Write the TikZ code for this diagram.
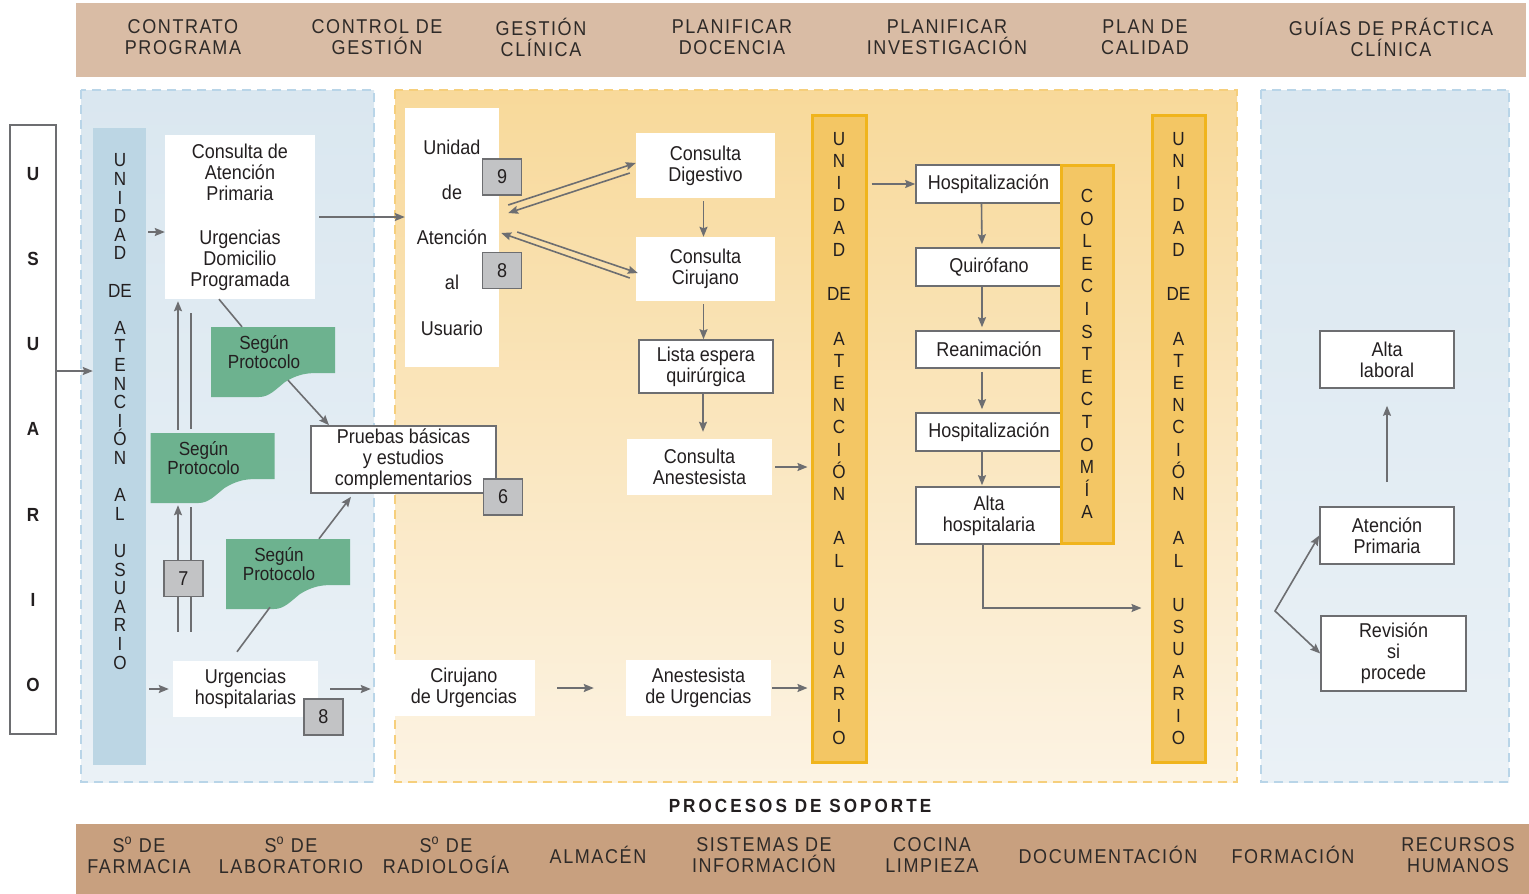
\documentclass[tikz,border=0pt]{standalone}
\usepackage{fontspec}
\setmainfont{Liberation Sans}[FakeStretch=0.9]
\newfontfamily\bandfont{Liberation Sans}[FakeStretch=0.9,LetterSpace=8]
\newfontfamily\soportefont{Liberation Sans}[FakeStretch=0.9,LetterSpace=16]
\usetikzlibrary{arrows.meta}
\definecolor{ink}{HTML}{231F20}
\definecolor{bandink}{HTML}{2E2A28}
\definecolor{edge}{HTML}{6D6E71}
\definecolor{topband}{HTML}{D9BCA5}
\definecolor{botband}{HTML}{C8A07F}
\definecolor{bluetop}{HTML}{DAE7F0}
\definecolor{bluebot}{HTML}{EAF1F6}
\definecolor{bluedash}{HTML}{B9D5E8}
\definecolor{orangetop}{HTML}{F8D99A}
\definecolor{orangebot}{HTML}{FCF3E3}
\definecolor{orangedash}{HTML}{F6CF7C}
\definecolor{barblue}{HTML}{BCD6E4}
\definecolor{barfill}{HTML}{F3C664}
\definecolor{barline}{HTML}{F0B41C}
\definecolor{docgreen}{HTML}{6DB28F}
\definecolor{numgray}{HTML}{C2C3C5}
\newcommand{\unidadtxt}[1]{U\\N\\I\\D\\A\\D\\[#1]DE\\[#1]A\\T\\E\\N\\C\\I\\Ó\\N\\[#1]A\\L\\[#1]U\\S\\U\\A\\R\\I\\O}
\begin{document}
\begin{tikzpicture}[x=1pt, y=-1pt, >={Stealth[length=10pt,width=8pt,inset=1.5pt]},
  txt/.style={font=\fontsize{20}{21}\selectfont, text=ink, align=center, inner sep=0pt},
  plainbox/.style={txt, fill=white},
  box/.style={txt, fill=white, draw=edge, line width=1.6pt},
  num/.style={txt, fill=numgray, draw=edge, line width=1.6pt, minimum width=39pt, minimum height=36pt},
  conn/.style={draw=edge, line width=1.6pt},
  band/.style={font=\bandfont\fontsize{20}{21}\selectfont, text=bandink, align=center},
  vbar/.style={fill=barfill, draw=barline, line width=3pt, inner sep=0pt, text=ink, align=center},
  panelblue/.style={top color=bluetop, bottom color=bluebot, draw=bluedash, line width=1.5pt, dash pattern=on 9pt off 6pt},
  panelorange/.style={top color=orangetop, bottom color=orangebot, draw=orangedash, line width=1.5pt, dash pattern=on 9pt off 6pt},
  pics/protocolo/.style={code={
    \fill[docgreen] (-62,-35) -- (62,-35) -- (62,11) -- (44,11) .. controls (30,11) and (22,14) .. (12,20) .. controls (2,28) and (-4,35) .. (-14,35) -- (-62,35) -- cycle;
    \node[txt, font=\fontsize{19}{19}\selectfont, minimum width=106pt, minimum height=50pt] (-t) at (-9,-10) {Según\\Protocolo};
  }}]
\useasboundingbox (0,0) rectangle (1529,894);

% bandas
\fill[topband] (76,3) rectangle (1526,77);
\fill[botband] (76,824) rectangle (1529,894);
\node[band] (contrato) at (183,37.5) {CONTRATO\\PROGRAMA};
\node[band] (control) at (377,37.5) {CONTROL DE\\GESTIÓN};
\node[band] (gestion) at (541,37.5) {GESTIÓN\\CLÍNICA};
\node[band] (docencia) at (732,37.5) {PLANIFICAR\\DOCENCIA};
\node[band] (investig) at (947,37.5) {PLANIFICAR\\INVESTIGACIÓN};
\node[band] (calidad) at (1145,37.5) {PLAN DE\\CALIDAD};
\node[band] (guias) at (1391,37.5) {GUÍAS DE PRÁCTICA\\CLÍNICA};
\node[band] (farmacia) at (139,855.5) {S\textsuperscript{o} DE\\FARMACIA};
\node[band] (laborat) at (291,855.5) {S\textsuperscript{o} DE\\LABORATORIO};
\node[band] (radiolog) at (446,855.5) {S\textsuperscript{o} DE\\RADIOLOGÍA};
\node[band] (almacen) at (598,855) {ALMACÉN};
\node[band] (sistemas) at (764,855.5) {SISTEMAS DE\\INFORMACIÓN};
\node[band] (cocina) at (932,855.5) {COCINA\\LIMPIEZA};
\node[band] (document) at (1108,855) {DOCUMENTACIÓN};
\node[band] (formacion) at (1293,855) {FORMACIÓN};
\node[band] (recursos) at (1458,855.5) {RECURSOS\\HUMANOS};
\node[font=\soportefont\bfseries\fontsize{19}{20}\selectfont, text=ink] (soporte) at (800,806) {PROCESOS DE SOPORTE};

% paneles
\path[panelblue] (81,90) rectangle (374,782);
\path[panelorange] (395,90) rectangle (1237,782);
\path[panelblue] (1261,90) rectangle (1509,782);

% usuario y atencion primaria
\node[txt, draw=edge, line width=1.6pt, fill=white, minimum width=46pt, minimum height=609pt, font=\bfseries\fontsize{19}{85.3}\selectfont] (usuario) at (33,429.5) {U\\S\\U\\A\\R\\I\\O};
\node[fill=barblue, minimum width=53pt, minimum height=637pt, inner sep=0pt] (ubar) at (119.5,446.5) {};
\node[txt, font=\fontsize{19}{18.6}\selectfont] (ubartxt) at (120,411.5) {\unidadtxt{18.6pt}};
\node[plainbox, minimum width=150pt, minimum height=164pt] (cap) at (240,217) {Consulta de\\Atención\\Primaria\\[23pt]Urgencias\\Domicilio\\Programada};
\node[plainbox, minimum width=145pt, minimum height=56pt] (urg) at (245.5,689) {Urgencias\\hospitalarias};
\node[box, minimum width=185pt, minimum height=67pt] (pru) at (403.5,459.5) {Pruebas básicas\\y estudios\\complementarios};
\pic (seg1) at (273,362) {protocolo};
\pic (seg2) at (212.5,468) {protocolo};
\pic (seg3) at (288,574) {protocolo};
\coordinate (capin) at ([yshift=-15pt]cap.west);
\draw[conn,->] ([yshift=58.5pt]usuario.east) -- ([yshift=75.5pt]ubar.west);
\draw[conn,->,shorten <=2pt] (ubar.east |- capin) -- (capin);
\draw[conn,->,shorten <=3pt] (ubar.east |- urg.west) -- ([xshift=-4pt]urg.west);
\draw[conn] ([xshift=-21pt]cap.south) -- ([xshift=-22pt]seg1-t.north);
\draw[conn,->] ([shift={(24,3)}]seg1-t.south) -- ([xshift=-74.5pt]pru.north);
\draw[conn,->,shorten >=2pt] ([shift={(-25.5,-3)}]seg2-t.north) -- ([xshift=-62pt]cap.south);
\draw[conn] ([shift={(-12.5,-4)}]seg2-t.north) -- ([shift={(-49,14)}]cap.south);
\draw[conn,->] ([shift={(-67.5,-29)}]urg.north) -- ([shift={(-25.5,22)}]seg2-t.south);
\draw[conn] ([shift={(-54.5,-29)}]urg.north) -- ([shift={(-12.5,24)}]seg2-t.south);
\draw[conn] ([shift={(-8.5,-9)}]urg.north) -- ([shift={(-9,18)}]seg3-t.south);
\draw[conn,->] ([xshift=40pt]seg3-t.north) -- ([shift={(-52.5,3)}]pru.south);
\node[num] (n7) at (183.5,578.5) {7};
\node[num] (n6) at (503,497) {6};
\node[num] (n8b) at (323.5,717) {8};

% unidad de atencion al usuario
\node[plainbox, minimum width=94pt, minimum height=259pt, font=\fontsize{20}{45.2}\selectfont] (uau) at (452,237.5) {Unidad\\de\\Atención\\al\\Usuario};
\node[num] (n9) at (502,177) {9};
\node[num] (n8a) at (502,270.5) {8};
\node[plainbox, minimum width=139pt, minimum height=65pt] (dig) at (705.5,165.5) {Consulta\\Digestivo};
\node[plainbox, minimum width=139pt, minimum height=64pt] (cir) at (705.5,269) {Consulta\\Cirujano};
\node[box, minimum width=134pt, minimum height=53pt] (lista) at (706,366.5) {Lista espera\\quirúrgica};
\node[plainbox, minimum width=145pt, minimum height=56pt] (anest) at (699.5,467) {Consulta\\Anestesista};
\node[plainbox, minimum width=142pt, minimum height=56pt] (ciru) at (464,688) {Cirujano\\de Urgencias};
\node[plainbox, minimum width=145pt, minimum height=56pt] (anu) at (698.5,688) {Anestesista\\de Urgencias};
\node[vbar, minimum width=54pt, minimum height=647pt, font=\fontsize{19}{22.2}\selectfont] (bar1) at (839,438.5) {\unidadtxt{22.2pt}};
\draw[conn,->] ([xshift=4pt]cap.east) -- (uau.west |- cap.east);
\draw[conn,->] ([shift={(9,-32.5)}]uau.east) -- ([yshift=2.5pt]dig.west);
\draw[conn,->] ([shift={(-6,7.5)}]dig.west) -- ([shift={(9,-24.5)}]uau.east);
\draw[conn,->] ([shift={(18,-5.5)}]uau.east) -- ([shift={(2,4)}]cir.west);
\draw[conn,->] ([shift={(-6,9)}]cir.west) -- ([shift={(2,-4.5)}]uau.east);
\draw[conn,->,shorten <=3pt] ([xshift=-2pt]dig.south) -- ([xshift=-2pt]cir.north);
\draw[conn,->,shorten <=3pt] ([xshift=-2pt]cir.south) -- ([xshift=-2pt]cir.south |- lista.north);
\draw[conn,->,shorten >=7pt] ([xshift=-3pt]lista.south) -- ([xshift=-3pt]lista.south |- anest.north);
\draw[conn,->,shorten <=3pt,shorten >=3pt] (anest.east) -- (bar1.west |- anest.east);
\draw[conn,->,shorten <=12pt,shorten >=22pt] (urg.east) -- (ciru.west |- urg.east);
\draw[conn,->,shorten <=22pt,shorten >=32pt] (ciru.east) -- (anu.west |- ciru.east);
\draw[conn,->,shorten <=1pt,shorten >=3pt] (anu.east) -- (bar1.west |- anu.east);

% colecistectomia
\node[box, minimum width=145pt, minimum height=38pt] (hosp1) at (988.5,184) {Hospitalización};
\node[box, minimum width=146pt, minimum height=38pt] (quir) at (989,267) {Quirófano};
\node[box, minimum width=146pt, minimum height=37pt] (rean) at (989,349.5) {Reanimación};
\node[box, minimum width=146pt, minimum height=38pt] (hosp2) at (989,432) {Hospitalización};
\node[box, minimum width=146pt, minimum height=57pt] (alta) at (989,515.5) {Alta\\hospitalaria};
\node[vbar, minimum width=52pt, minimum height=378pt, font=\fontsize{19}{22.6}\selectfont] (cole) at (1087,354) {C\\O\\L\\E\\C\\I\\S\\T\\E\\C\\T\\O\\M\\Í\\A};
\node[vbar, minimum width=53pt, minimum height=647pt, font=\fontsize{19}{22.2}\selectfont] (bar2) at (1178.5,438.5) {\unidadtxt{22.2pt}};
\draw[conn,->,shorten <=4pt] (bar1.east |- hosp1.west) -- (hosp1.west);
\draw[conn,->,shorten >=3pt] ([xshift=-7pt]hosp1.south) -- ([xshift=-7pt]quir.north);
\draw[conn,->,shorten >=3pt] ([xshift=-7pt]quir.south) -- ([xshift=-7pt]rean.north);
\draw[conn,->,shorten <=3pt,shorten >=3pt] ([xshift=-7pt]rean.south) -- ([xshift=-7pt]hosp2.north);
\draw[conn,->,shorten >=1pt] ([xshift=-7pt]hosp2.south) -- ([xshift=-7pt]alta.north);
\draw[conn,->,shorten >=9pt] ([xshift=-6pt]alta.south) |- ([yshift=-169.5pt]bar2.west);

% alta
\node[box, minimum width=134pt, minimum height=57pt] (alab) at (1387,359.5) {Alta\\laboral};
\node[box, minimum width=134pt, minimum height=57pt] (atp) at (1387,535.5) {Atención\\Primaria};
\node[box, minimum width=145pt, minimum height=75pt] (rev) at (1393.5,653.5) {Revisión\\si\\procede};
\coordinate (fork) at (1275,611);
\draw[conn,->,shorten <=24pt,shorten >=17pt] (atp.north) -- (alab.south);
\draw[conn,<->] (atp.west) -- (fork) -- (rev.west);
\end{tikzpicture}
\end{document}
